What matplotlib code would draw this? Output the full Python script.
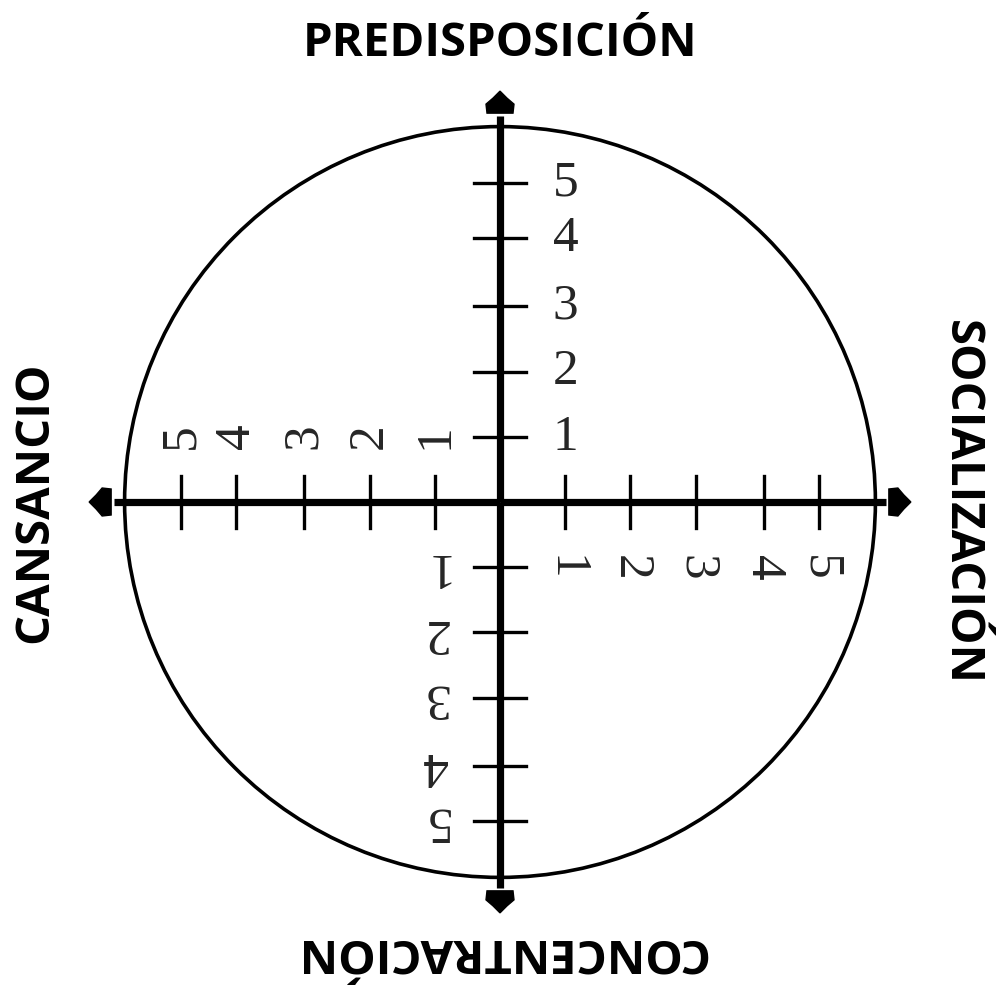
import matplotlib
matplotlib.use("Agg")
import matplotlib.pyplot as plt
from matplotlib.patches import Circle, Polygon
import numpy as np

# Ejes del diagrama (dirección en grados, título)
axis_titles = ["PREDISPOSICIÓN", "CANSANCIO", "CONCENTRACIÓN", "SOCIALIZACIÓN"]
axis_angles = [90, 180, 270, 0]
# Marcas de cada eje
tick_labels = ["1", "2", "3", "4", "5"]
tick_pos = [0.99, 1.99, 3.0, 4.03, 4.88]

# Unidad: una marca ~ 65.4 px
px = 65.4
W, H = 1002, 994
cx, cy = 500, 502

fig = plt.figure(figsize=(W / 100, H / 100), dpi=100)
ax = fig.add_axes([0, 0, 1, 1])
ax.set_xlim(-cx / px, (W - cx) / px)
ax.set_ylim(-(H - cy) / px, cy / px)
ax.axis("off")

R = 5.74        # radio del círculo
L = 5.90        # largo de cada semieje
half_tick = 0.40
label_off = 1.0
title_r = [7.01, 7.12, 6.88, 7.06]

ax.add_patch(Circle((0, 0), R, fill=False, lw=2.6, color="black", zorder=2))

# punta de flecha (apuntando hacia afuera, en unidades de px)
head = np.array([[-13, 0], [13, 0], [14, 9], [7, 15], [0, 22],
                 [-7, 15], [-14, 9]]) / px

for title, ang, tr in zip(axis_titles, axis_angles, title_r):
    a = np.deg2rad(ang)
    d = np.array([np.cos(a), np.sin(a)])   # dirección del eje
    n = np.array([np.cos(a - np.pi / 2), np.sin(a - np.pi / 2)])  # lado de etiquetas
    ax.plot([0, L * d[0]], [0, L * d[1]], color="black", lw=5.2,
            solid_capstyle="butt", zorder=3)
    # punta
    rot = np.array([[n[0], d[0]], [n[1], d[1]]])
    pts = head @ rot.T + (L + 3 / px) * d
    ax.add_patch(Polygon(pts, closed=True, color="black", zorder=3))
    # marcas y números
    for lab, p in zip(tick_labels, tick_pos):
        c = p * d
        ax.plot([c[0] - half_tick * n[0], c[0] + half_tick * n[0]],
                [c[1] - half_tick * n[1], c[1] + half_tick * n[1]],
                color="black", lw=2.4, zorder=3)
        t = c + label_off * n
        ax.text(t[0], t[1], lab, rotation=ang - 90, ha="center", va="center",
                family="Liberation Serif", fontsize=37, color="#262626",
                rotation_mode="anchor")
    # título
    tp = tr * d
    ax.text(tp[0], tp[1], title, rotation=ang - 90, ha="center", va="center",
            family="Open Sans", fontweight="bold", fontsize=34,
            rotation_mode="anchor")

fig.savefig("out.png", dpi=100)
